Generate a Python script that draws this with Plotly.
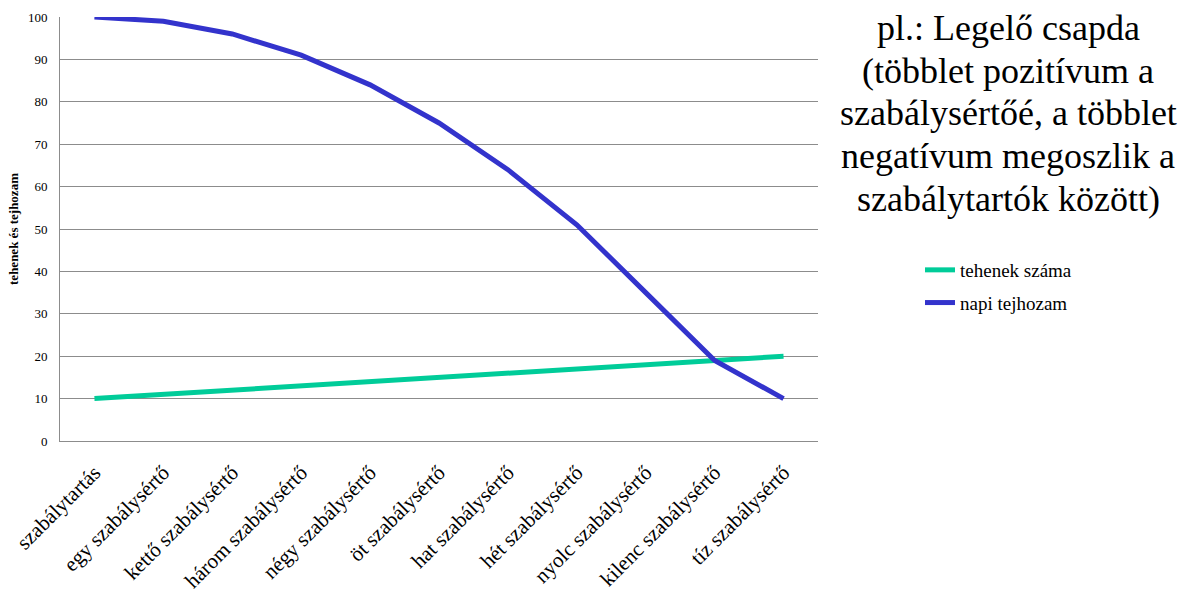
import plotly.graph_objects as go

# Kategóriák és a két adatsor
categories = [
    "szabálytartás", "egy szabálysértő", "kettő szabálysértő", "három szabálysértő",
    "négy szabálysértő", "öt szabálysértő", "hat szabálysértő", "hét szabálysértő",
    "nyolc szabálysértő", "kilenc szabálysértő", "tíz szabálysértő",
]
tehenek_szama = [10, 11, 12, 13, 14, 15, 16, 17, 18, 19, 20]
napi_tejhozam = [100, 99, 96, 91, 84, 75, 64, 51, 35, 19, 10]
y_ticks = [0, 10, 20, 30, 40, 50, 60, 70, 80, 90, 100]

title_lines = [
    "pl.: Legelő csapda",
    "(többlet pozitívum a",
    "szabálysértőé, a többlet",
    "negatívum megoszlik a",
    "szabálytartók között)",
]

SERIF = "Liberation Serif"

# plot area in pixels (for placing the side text in paper coordinates)
W, H = 1186, 592
L, R, T, B = 60, 368, 17, 151
PW, PH = W - L - R, H - T - B


def px_to_paper_x(px):
    return (px - L) / PW


def px_to_paper_y(py):
    return 1 - (py - T) / PH


fig = go.Figure()
fig.add_trace(go.Scatter(
    x=categories, y=tehenek_szama, mode="lines", name="tehenek száma",
    line=dict(color="#00CC99", width=5), legendgroup="a",
))
fig.add_trace(go.Scatter(
    x=categories, y=napi_tejhozam, mode="lines", name="napi tejhozam",
    line=dict(color="#3333CC", width=5), legendgroup="b",
))

annotations = []
for i, line in enumerate(title_lines):
    annotations.append(dict(
        text=line, x=px_to_paper_x(1008), y=px_to_paper_y(28 + i * 42.7),
        xref="paper", yref="paper", xanchor="center", yanchor="middle",
        showarrow=False, font=dict(family=SERIF, size=36, color="black"),
    ))

fig.update_layout(
    width=W, height=H,
    margin=dict(l=L, r=R, t=T, b=B, autoexpand=False),
    paper_bgcolor="white", plot_bgcolor="white",
    font=dict(family=SERIF, color="black"),
    showlegend=True,
    legend=dict(
        x=px_to_paper_x(920), y=px_to_paper_y(286.5), xanchor="left", yanchor="middle",
        xref="paper", yref="paper", traceorder="grouped", tracegroupgap=5,
        font=dict(family=SERIF, size=19, color="black"),
        bgcolor="rgba(0,0,0,0)", itemwidth=30,
    ),
    xaxis=dict(
        type="category", tickangle=-45, automargin=False,
        tickfont=dict(family=SERIF, size=21, color="black"),
        showgrid=False, showline=True, linecolor="#8c8c8c", linewidth=1,
        ticks="", range=[-0.5, 10.5], ticklabelstandoff=10,
    ),
    yaxis=dict(
        range=[0, 100], tickvals=y_ticks, ticktext=[str(v) for v in y_ticks],
        tickfont=dict(family=SERIF, size=13, color="black"), automargin=False,
        showgrid=True, gridcolor="#8c8c8c", gridwidth=1,
        showline=True, linecolor="#8c8c8c", linewidth=1,
        zeroline=False, ticks="", ticklen=0, ticklabelstandoff=9,
        title=dict(text="<b>tehenek és tejhozam</b>",
                   font=dict(family=SERIF, size=13, color="black"), standoff=6),
    ),
    annotations=annotations,
)

fig.write_html("out.html")
